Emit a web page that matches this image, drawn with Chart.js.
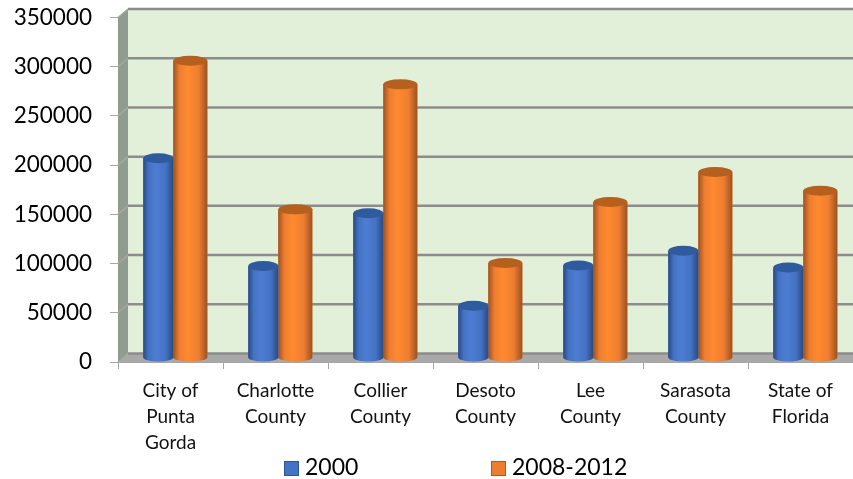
<!DOCTYPE html>
<html>
<head>
<meta charset="utf-8">
<title>Median home value</title>
<script src="https://cdn.jsdelivr.net/npm/chart.js@4/dist/chart.umd.min.js"></script>
<style>
  html, body { margin: 0; padding: 0; background: #fff; }
  canvas { display: block; }
</style>
</head>
<body>
<canvas id="homeValueChart" width="853" height="479"></canvas>
<script>
const categories = [
  ["City of", "Punta", "Gorda"],
  ["Charlotte", "County"],
  ["Collier", "County"],
  ["Desoto", "County"],
  ["Lee", "County"],
  ["Sarasota", "County"],
  ["State of", "Florida"],
];
const values2000 = [203000, 93500, 147000, 53000, 94000, 109000, 92000];
const values2008 = [302000, 151000, 278000, 96500, 158500, 189000, 170000];
const yMax = 350000;
const yStep = 50000;

// depth of the fake 3D box, and of the bars inside it
const depthX = 10;
const depthY = 8.5;
const barShiftX = 3.8;
const barShiftY = 4;
const capRadius = 5;

const tones = {
  blue: { base: "#4472c4", edge: "#2a4a80", light: "#4d7dd2", cap: "#2f5a9e", border: "#2f5597" },
  orange: { base: "#ed7d31", edge: "#9c5220", light: "#ff8a2e", cap: "#b5601f", border: "#ae5a21" },
};

const boxPlugin = {
  id: "box3d",
  beforeDatasetsDraw(chart) {
    const { ctx, chartArea: area, scales } = chart;
    const y = scales.y;
    const left = area.left;
    const right = area.right;
    const top = y.getPixelForValue(yMax);
    const bottom = y.getPixelForValue(0);

    ctx.save();
    ctx.fillStyle = "#e2efd9";
    ctx.fillRect(left + depthX, top - depthY, right - left - depthX, bottom - top);

    // left wall
    ctx.fillStyle = "#8f9c8f";
    ctx.beginPath();
    ctx.moveTo(left, top);
    ctx.lineTo(left + depthX, top - depthY);
    ctx.lineTo(left + depthX, bottom - depthY);
    ctx.lineTo(left, bottom);
    ctx.closePath();
    ctx.fill();

    // floor
    ctx.fillStyle = "#a9a9a9";
    ctx.beginPath();
    ctx.moveTo(left, bottom);
    ctx.lineTo(left + depthX, bottom - depthY);
    ctx.lineTo(right, bottom - depthY);
    ctx.lineTo(right, bottom);
    ctx.closePath();
    ctx.fill();

    // grid lines on the back wall, with the slanted part on the left wall
    ctx.strokeStyle = "#8c8c8c";
    ctx.lineWidth = 2.5;
    for (let v = 0; v <= yMax; v += yStep) {
      const py = y.getPixelForValue(v);
      ctx.beginPath();
      ctx.moveTo(left + depthX, py - depthY);
      ctx.lineTo(right, py - depthY);
      ctx.stroke();
    }
    ctx.strokeStyle = "#a6a6a6";
    ctx.lineWidth = 1.5;
    for (let v = 0; v <= yMax; v += yStep) {
      const py = y.getPixelForValue(v);
      ctx.beginPath();
      ctx.moveTo(left, py);
      ctx.lineTo(left + depthX, py - depthY);
      ctx.stroke();
    }
    ctx.restore();
  },
  beforeDatasetDraw(chart) {
    chart.ctx.save();
    chart.ctx.translate(barShiftX, -barShiftY);
  },
  afterDatasetDraw(chart, args) {
    const ctx = chart.ctx;
    const tone = tones[chart.data.datasets[args.index].tone];
    args.meta.data.forEach((bar) => {
      const x0 = bar.x - bar.width / 2;
      const x1 = bar.x + bar.width / 2;
      const shade = ctx.createLinearGradient(x0, 0, x1, 0);
      shade.addColorStop(0, tone.edge);
      shade.addColorStop(0.18, tone.base);
      shade.addColorStop(0.42, tone.light);
      shade.addColorStop(0.75, tone.base);
      shade.addColorStop(1, tone.edge);

      ctx.fillStyle = shade;
      ctx.beginPath();
      ctx.moveTo(x0, bar.y);
      ctx.lineTo(x0, bar.base);
      ctx.ellipse(bar.x, bar.base, bar.width / 2, capRadius - 1, 0, Math.PI, 0, true);
      ctx.lineTo(x1, bar.y);
      ctx.closePath();
      ctx.fill();

      ctx.fillStyle = tone.cap;
      ctx.beginPath();
      ctx.ellipse(bar.x, bar.y, bar.width / 2, capRadius, 0, 0, Math.PI * 2);
      ctx.fill();
    });
    ctx.restore();
  },
  afterDraw(chart) {
    // legend sits off-centre with a wide gap, so it is laid out by hand
    const ctx = chart.ctx;
    const slots = [284, 491];
    ctx.save();
    ctx.font = "23px Lato";
    ctx.textBaseline = "middle";
    chart.data.datasets.forEach((ds, i) => {
      const tone = tones[ds.tone];
      ctx.fillStyle = tone.base;
      ctx.fillRect(slots[i], 461, 15, 15);
      ctx.strokeStyle = tone.border;
      ctx.lineWidth = 1;
      ctx.strokeRect(slots[i] + 0.5, 461.5, 14, 14);
      ctx.fillStyle = "#000";
      ctx.fillText(ds.label, slots[i] + 21, 468);
    });
    ctx.restore();
  },
};

new Chart(document.getElementById("homeValueChart"), {
  type: "bar",
  data: {
    labels: categories,
    datasets: [
      { label: "2000", tone: "blue", data: values2000, backgroundColor: tones.blue.base, barPercentage: 0.9375 },
      { label: "2008-2012", tone: "orange", data: values2008, backgroundColor: tones.orange.base, barPercentage: 1.0625 },
    ],
  },
  options: {
    responsive: false,
    animation: false,
    layout: { padding: { top: 17.5, left: 0, right: 0, bottom: 0 } },
    categoryPercentage: 0.61,
    plugins: { legend: { display: false }, tooltip: { enabled: false } },
    scales: {
      x: {
        afterFit(scale) {
          scale.height = 117;
        },
        grid: { drawOnChartArea: false, drawTicks: true, tickLength: 7, color: "#a6a6a6" },
        border: { color: "#a6a6a6" },
        ticks: {
          color: "#111",
          font: { family: "Lato", size: 19, lineHeight: 1.37 },
          padding: 9,
          maxRotation: 0,
          autoSkip: false,
        },
      },
      y: {
        min: 0,
        max: yMax,
        afterFit(scale) {
          scale.width = 118;
          // the wide tick padding would otherwise push the plot area down
          scale.paddingTop = 0;
          scale.paddingBottom = 0;
        },
        grid: { drawOnChartArea: false, drawTicks: true, tickLength: 8, color: "#a6a6a6" },
        border: { color: "#a6a6a6" },
        ticks: {
          stepSize: yStep,
          color: "#000",
          font: { family: "Lato", size: 22.5 },
          padding: 18,
          callback: (value) => String(value),
        },
      },
    },
  },
  plugins: [boxPlugin],
});
</script>
</body>
</html>
